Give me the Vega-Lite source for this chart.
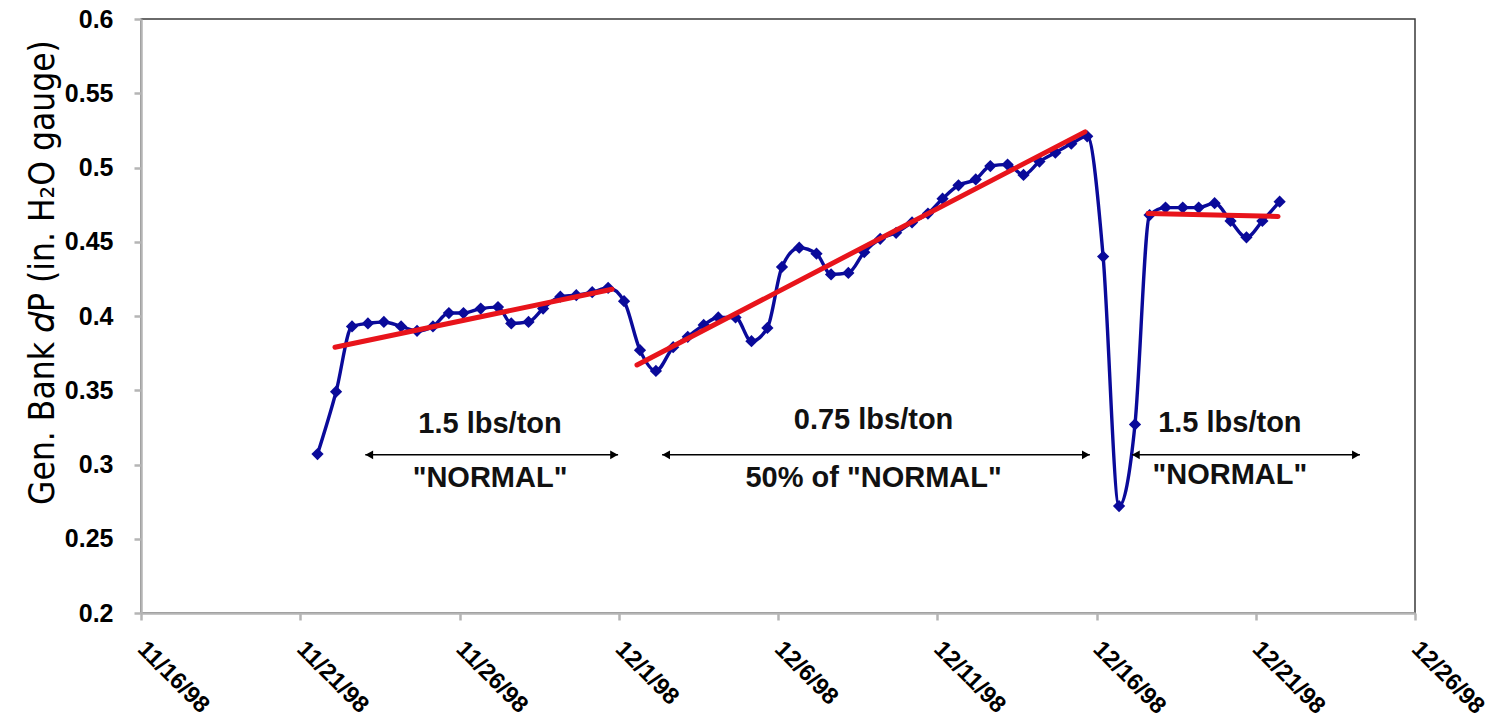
{
  "$schema": "https://vega.github.io/schema/vega-lite/v6.json",
  "autosize": {"type": "none"},
  "padding": {"left": 141, "top": 19, "right": 83, "bottom": 106},
  "width": 1274,
  "height": 594,
  "background": "white",
  "view": {"stroke": "#3a3a3a", "strokeWidth": 1.5},
  "config": {
    "font": "Liberation Sans",
    "axis": {
      "grid": false,
      "domainColor": "#b5b5b5",
      "domainWidth": 2.5,
      "tickColor": "#b5b5b5",
      "tickWidth": 2.5,
      "tickSize": 7,
      "labelFont": "Liberation Sans",
      "labelFontWeight": "bold",
      "labelColor": "#000000",
      "labelFontSize": 24
    }
  },
  "datasets": {
    "dp": [
      {"t": "1998-11-21T13:00", "v": 0.307},
      {"t": "1998-11-22T03:00", "v": 0.349},
      {"t": "1998-11-22T15:00", "v": 0.393},
      {"t": "1998-11-23T03:00", "v": 0.395},
      {"t": "1998-11-23T15:00", "v": 0.396},
      {"t": "1998-11-24T04:00", "v": 0.393},
      {"t": "1998-11-24T16:00", "v": 0.390},
      {"t": "1998-11-25T04:00", "v": 0.393},
      {"t": "1998-11-25T16:00", "v": 0.402},
      {"t": "1998-11-26T03:00", "v": 0.402},
      {"t": "1998-11-26T16:00", "v": 0.405},
      {"t": "1998-11-27T05:00", "v": 0.406},
      {"t": "1998-11-27T15:00", "v": 0.395},
      {"t": "1998-11-28T04:00", "v": 0.396},
      {"t": "1998-11-28T15:00", "v": 0.405},
      {"t": "1998-11-29T04:00", "v": 0.413},
      {"t": "1998-11-29T16:00", "v": 0.414},
      {"t": "1998-11-30T04:00", "v": 0.416},
      {"t": "1998-11-30T16:00", "v": 0.419},
      {"t": "1998-12-01T04:00", "v": 0.410},
      {"t": "1998-12-01T16:00", "v": 0.377},
      {"t": "1998-12-02T04:00", "v": 0.363},
      {"t": "1998-12-02T17:00", "v": 0.379},
      {"t": "1998-12-03T04:00", "v": 0.386},
      {"t": "1998-12-03T16:00", "v": 0.394},
      {"t": "1998-12-04T03:00", "v": 0.399},
      {"t": "1998-12-04T16:00", "v": 0.399},
      {"t": "1998-12-05T04:00", "v": 0.383},
      {"t": "1998-12-05T16:00", "v": 0.392},
      {"t": "1998-12-06T03:00", "v": 0.433},
      {"t": "1998-12-06T16:00", "v": 0.446},
      {"t": "1998-12-07T05:00", "v": 0.442},
      {"t": "1998-12-07T16:00", "v": 0.428},
      {"t": "1998-12-08T05:00", "v": 0.429},
      {"t": "1998-12-08T17:00", "v": 0.443},
      {"t": "1998-12-09T05:00", "v": 0.452},
      {"t": "1998-12-09T17:00", "v": 0.456},
      {"t": "1998-12-10T05:00", "v": 0.463},
      {"t": "1998-12-10T17:00", "v": 0.469},
      {"t": "1998-12-11T04:00", "v": 0.479},
      {"t": "1998-12-11T16:00", "v": 0.488},
      {"t": "1998-12-12T05:00", "v": 0.492},
      {"t": "1998-12-12T16:00", "v": 0.501},
      {"t": "1998-12-13T05:00", "v": 0.502},
      {"t": "1998-12-13T17:00", "v": 0.495},
      {"t": "1998-12-14T05:00", "v": 0.504},
      {"t": "1998-12-14T17:00", "v": 0.510},
      {"t": "1998-12-15T05:00", "v": 0.516},
      {"t": "1998-12-15T17:00", "v": 0.521},
      {"t": "1998-12-16T05:00", "v": 0.440},
      {"t": "1998-12-16T17:00", "v": 0.272},
      {"t": "1998-12-17T05:00", "v": 0.327},
      {"t": "1998-12-17T16:00", "v": 0.468},
      {"t": "1998-12-18T04:00", "v": 0.473},
      {"t": "1998-12-18T17:00", "v": 0.473},
      {"t": "1998-12-19T05:00", "v": 0.473},
      {"t": "1998-12-19T17:00", "v": 0.476},
      {"t": "1998-12-20T05:00", "v": 0.464},
      {"t": "1998-12-20T17:00", "v": 0.453},
      {"t": "1998-12-21T05:00", "v": 0.464},
      {"t": "1998-12-21T18:00", "v": 0.477}
    ],
    "trend": [
      {"seg": "a", "t": "1998-11-22T02:10", "v": 0.379},
      {"seg": "a", "t": "1998-11-30T19:00", "v": 0.418},
      {"seg": "b", "t": "1998-12-01T13:45", "v": 0.367},
      {"seg": "b", "t": "1998-12-15T15:20", "v": 0.524},
      {"seg": "c", "t": "1998-12-17T14:50", "v": 0.469},
      {"seg": "c", "t": "1998-12-21T16:50", "v": 0.467}
    ],
    "arrows": [
      {"t1": "1998-11-23T01:00", "t2": "1998-11-30T23:30", "v": 0.3065},
      {"t1": "1998-12-02T08:40", "t2": "1998-12-15T19:00", "v": 0.3065},
      {"t1": "1998-12-17T02:40", "t2": "1998-12-24T06:30", "v": 0.3065}
    ],
    "labels": [
      {"t": "1998-11-26T23:00", "v": 0.327, "txt": "1.5 lbs/ton"},
      {"t": "1998-11-26T23:00", "v": 0.291, "txt": "\"NORMAL\""},
      {"t": "1998-12-09T00:00", "v": 0.330, "txt": "0.75 lbs/ton"},
      {"t": "1998-12-09T00:00", "v": 0.291, "txt": "50% of \"NORMAL\""},
      {"t": "1998-12-20T04:30", "v": 0.328, "txt": "1.5 lbs/ton"},
      {"t": "1998-12-20T04:30", "v": 0.293, "txt": "\"NORMAL\""}
    ]
  },
  "encoding": {
    "x": {
      "field": "t",
      "type": "temporal",
      "scale": {"domain": [{"year": 1998, "month": 11, "date": 16}, {"year": 1998, "month": 12, "date": 26}]},
      "axis": {
        "title": null,
        "format": "%-m/%-d/%y",
        "values": [
          {"year": 1998, "month": 11, "date": 16},
          {"year": 1998, "month": 11, "date": 21},
          {"year": 1998, "month": 11, "date": 26},
          {"year": 1998, "month": 12, "date": 1},
          {"year": 1998, "month": 12, "date": 6},
          {"year": 1998, "month": 12, "date": 11},
          {"year": 1998, "month": 12, "date": 16},
          {"year": 1998, "month": 12, "date": 21},
          {"year": 1998, "month": 12, "date": 26}
        ],
        "labelAngle": 45,
        "labelAlign": "left",
        "labelBaseline": "middle",
        "labelPadding": 25,
        "labelFontSize": 23.5,
        "labelFlush": false,
        "labelOverlap": false
      }
    },
    "y": {
      "field": "v",
      "type": "quantitative",
      "scale": {"domain": [0.2, 0.6], "nice": false, "zero": false},
      "axis": {
        "values": [0.2, 0.25, 0.3, 0.35, 0.4, 0.45, 0.5, 0.55, 0.6],
        "format": ".2~f",
        "labelPadding": 21,
        "labelFontSize": 25,
        "title": "Gen. Bank 𝑑P (in. H₂O gauge)",
        "titleFont": "DejaVu Sans Condensed, Roboto Condensed, Liberation Sans Narrow, Roboto, sans-serif",
        "titleFontWeight": "normal",
        "titleFontSize": 35,
        "titleColor": "#000000",
        "titleAngle": -90,
        "titleAlign": "center",
        "titleBaseline": "middle",
        "titleX": -99,
        "titleY": 253
      }
    }
  },
  "layer": [
    {
      "data": {"name": "dp"},
      "mark": {"type": "line", "color": "#0a0a9a", "strokeWidth": 3.4, "interpolate": "monotone"}
    },
    {
      "data": {"name": "dp"},
      "mark": {"type": "point", "shape": "diamond", "filled": true, "color": "#0a0a9a", "size": 150, "opacity": 1}
    },
    {
      "data": {"name": "trend"},
      "mark": {"type": "line", "color": "#e8141b", "strokeWidth": 5, "strokeCap": "round"},
      "encoding": {"detail": {"field": "seg"}}
    },
    {
      "data": {"name": "arrows"},
      "mark": {"type": "rule", "color": "#000000", "strokeWidth": 1.5},
      "encoding": {
        "x": {"field": "t1", "type": "temporal"},
        "x2": {"field": "t2"},
        "y": {"field": "v", "type": "quantitative"}
      }
    },
    {
      "data": {"name": "arrows"},
      "mark": {"type": "point", "shape": "triangle-left", "filled": true, "color": "#000000", "size": 80, "opacity": 1, "xOffset": 4},
      "encoding": {
        "x": {"field": "t1", "type": "temporal"},
        "y": {"field": "v", "type": "quantitative"}
      }
    },
    {
      "data": {"name": "arrows"},
      "mark": {"type": "point", "shape": "triangle-right", "filled": true, "color": "#000000", "size": 80, "opacity": 1, "xOffset": -4},
      "encoding": {
        "x": {"field": "t2", "type": "temporal"},
        "y": {"field": "v", "type": "quantitative"}
      }
    },
    {
      "data": {"name": "labels"},
      "mark": {"type": "text", "font": "Liberation Sans", "fontWeight": "bold", "fontSize": 29, "color": "#111111", "align": "center", "baseline": "middle"},
      "encoding": {"text": {"field": "txt"}}
    }
  ]
}
